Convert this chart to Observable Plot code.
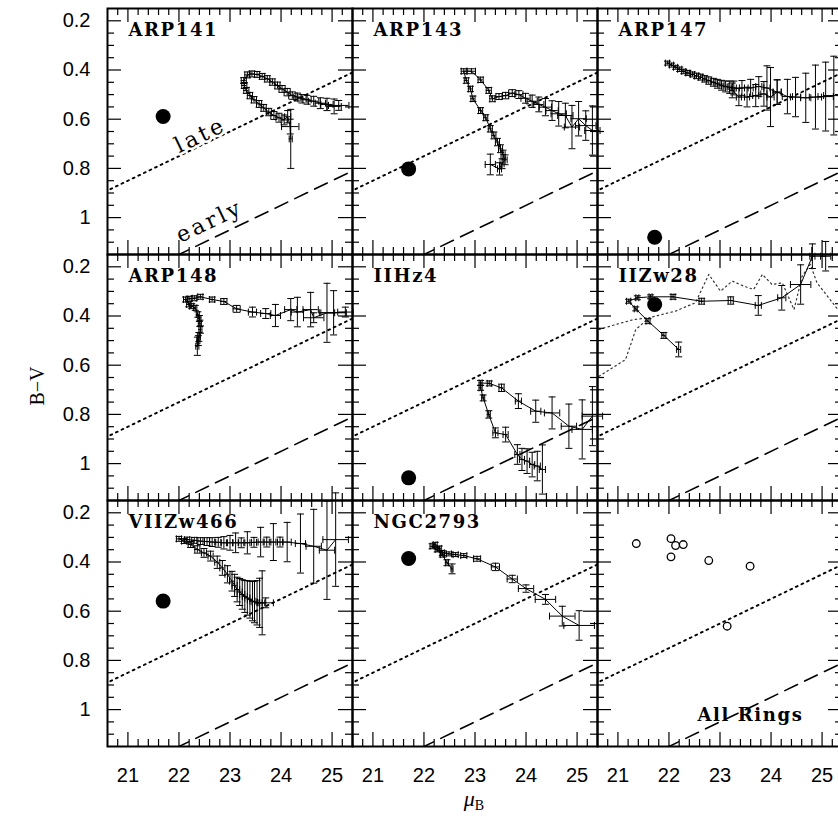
<!DOCTYPE html>
<html><head><meta charset="utf-8">
<script src="https://cdn.jsdelivr.net/npm/d3@7"></script>
<script src="https://cdn.jsdelivr.net/npm/@observablehq/plot@0.6"></script>
<style>
html,body{margin:0;padding:0;background:#fff;overflow:hidden;}
#chart{position:relative;width:844px;height:823px;}
</style></head><body><div id="chart"></div>
<script>
// ---- panels ----
const galaxies = ["ARP141","ARP143","ARP147","ARP148","IIHz4","IIZw28","VIIZw466","NGC2793"];
const panelCol = [0,1,2,0,1,2,0,1];
const panelRow = [0,0,0,1,1,1,2,2];
// integrated colours (big filled dots)
const integMu = [21.69,21.70,21.72,null,21.70,21.72,21.69,21.70];
const integBV = [0.589,0.802,1.08,null,1.058,0.353,0.559,0.386];

// ---- ring profiles: [muB, B-V, err muB, err B-V] ----
const ARP141 = [[24.19,0.68,0.03,0.12],[24.18,0.63,0.17,0.03],[24.13,0.59,0.06,0.025],[24.06,0.603,0.06,0.02],[23.96,0.594,0.06,0.018],[23.86,0.585,0.06,0.016],[23.76,0.571,0.05,0.015],[23.66,0.554,0.05,0.014],[23.57,0.538,0.05,0.014],[23.47,0.521,0.05,0.013],[23.39,0.504,0.05,0.013],[23.32,0.483,0.05,0.012],[23.28,0.463,0.05,0.012],[23.27,0.443,0.05,0.012],[23.34,0.42,0.05,0.012],[23.43,0.416,0.05,0.012],[23.53,0.418,0.05,0.012],[23.63,0.426,0.05,0.012],[23.73,0.436,0.05,0.013],[23.83,0.449,0.05,0.013],[23.93,0.463,0.05,0.014],[24.02,0.477,0.06,0.014],[24.12,0.49,0.06,0.015],[24.22,0.504,0.07,0.015],[24.32,0.51,0.07,0.016],[24.41,0.517,0.08,0.017],[24.51,0.521,0.08,0.018],[24.64,0.527,0.1,0.02],[24.77,0.535,0.1,0.022],[24.90,0.54,0.12,0.025],[25.04,0.548,0.14,0.03],[25.13,0.544,0.2,0.02]];
const ARP143 = [[23.30,0.784,0.1,0.042],[23.48,0.802,0.04,0.025],[23.53,0.781,0.04,0.02],[23.59,0.765,0.04,0.02],[23.55,0.744,0.04,0.018],[23.50,0.72,0.04,0.016],[23.44,0.693,0.04,0.015],[23.37,0.666,0.04,0.014],[23.30,0.639,0.04,0.013],[23.21,0.594,0.04,0.012],[23.11,0.565,0.04,0.012],[22.96,0.517,0.04,0.011],[22.91,0.477,0.04,0.011],[22.83,0.443,0.04,0.011],[22.78,0.405,0.05,0.01],[22.93,0.405,0.08,0.01],[23.11,0.44,0.05,0.011],[23.27,0.483,0.05,0.012],[23.34,0.517,0.05,0.012],[23.47,0.508,0.06,0.012],[23.60,0.504,0.06,0.013],[23.73,0.494,0.07,0.014],[23.86,0.50,0.08,0.016],[23.99,0.515,0.09,0.02],[24.12,0.527,0.1,0.025],[24.25,0.54,0.1,0.03],[24.38,0.551,0.12,0.035],[24.51,0.565,0.12,0.04],[24.64,0.578,0.15,0.05],[24.77,0.585,0.15,0.05],[24.90,0.632,0.15,0.088],[25.03,0.598,0.15,0.07],[25.17,0.626,0.2,0.06],[25.30,0.646,0.15,0.1]];
const ARP147a = [[21.97,0.372,0.04,0.008],[22.05,0.38,0.04,0.008],[22.13,0.389,0.04,0.008],[22.21,0.397,0.04,0.009],[22.29,0.406,0.04,0.009],[22.37,0.412,0.04,0.01],[22.46,0.418,0.04,0.01],[22.54,0.424,0.04,0.011],[22.62,0.429,0.04,0.012],[22.70,0.436,0.04,0.013],[22.78,0.443,0.05,0.015],[22.87,0.45,0.05,0.016],[22.95,0.456,0.05,0.018],[23.03,0.462,0.05,0.02],[23.11,0.467,0.05,0.022],[23.19,0.47,0.05,0.025],[23.27,0.473,0.05,0.028],[23.43,0.473,0.05,0.03],[23.60,0.473,0.05,0.035],[23.76,0.467,0.06,0.04],[23.92,0.473,0.06,0.09],[24.12,0.49,0.08,0.05],[24.32,0.508,0.1,0.07],[24.48,0.51,0.1,0.08],[24.68,0.513,0.1,0.1],[24.87,0.51,0.12,0.13],[25.07,0.508,0.15,0.14],[25.23,0.504,0.2,0.16]];
const ARP147b = [[23.24,0.483,0.05,0.03],[23.37,0.51,0.05,0.035],[23.53,0.51,0.05,0.04],[23.70,0.504,0.06,0.045],[23.86,0.497,0.06,0.05],[23.99,0.51,0.07,0.12],[24.12,0.49,0.08,0.05]];
const ARP148 = [[22.36,0.523,0.03,0.037],[22.38,0.50,0.03,0.02],[22.39,0.485,0.03,0.018],[22.42,0.455,0.03,0.015],[22.41,0.43,0.03,0.013],[22.40,0.41,0.03,0.012],[22.37,0.394,0.03,0.011],[22.32,0.367,0.03,0.01],[22.25,0.36,0.04,0.01],[22.19,0.353,0.04,0.01],[22.13,0.333,0.04,0.01],[22.20,0.33,0.04,0.01],[22.30,0.328,0.04,0.01],[22.42,0.322,0.05,0.01],[22.65,0.333,0.05,0.01],[22.88,0.341,0.06,0.012],[23.13,0.371,0.07,0.014],[23.44,0.384,0.08,0.02],[23.70,0.39,0.1,0.02],[23.89,0.398,0.1,0.045],[24.19,0.374,0.12,0.045],[24.32,0.384,0.12,0.06],[24.58,0.374,0.15,0.07],[24.64,0.407,0.2,0.02],[24.90,0.387,0.15,0.12],[25.03,0.387,0.25,0.09],[25.26,0.384,0.15,0.02]];
const IIHz4 = [[24.32,1.024,0.06,0.1],[24.22,1.01,0.06,0.06],[24.12,1.004,0.05,0.05],[24.02,0.99,0.05,0.05],[23.92,0.983,0.05,0.045],[23.83,0.963,0.05,0.04],[23.60,0.882,0.05,0.03],[23.40,0.875,0.05,0.02],[23.27,0.80,0.03,0.015],[23.16,0.733,0.03,0.012],[23.11,0.692,0.03,0.01],[23.11,0.672,0.03,0.01],[23.28,0.674,0.04,0.01],[23.52,0.692,0.05,0.015],[23.85,0.746,0.06,0.03],[24.19,0.787,0.1,0.045],[24.51,0.794,0.15,0.065],[24.84,0.848,0.15,0.09],[25.10,0.861,0.2,0.12],[25.30,0.807,0.2,0.12]];
const IIZw28 = [[22.19,0.536,0.04,0.03],[21.90,0.479,0.04,0.012],[21.59,0.421,0.04,0.01],[21.35,0.371,0.03,0.008],[21.21,0.34,0.04,0.008],[21.38,0.326,0.03,0.008],[21.64,0.322,0.03,0.008],[22.08,0.322,0.04,0.01],[22.64,0.34,0.05,0.012],[23.21,0.337,0.05,0.015],[23.75,0.357,0.06,0.04],[24.21,0.326,0.08,0.05],[24.58,0.272,0.2,0.08],[24.81,0.157,0.05,0.05],[25.07,0.157,0.1,0.06]];
const VIIZw466 = [[23.70,0.566,0.15,0.02],[23.63,0.566,0.05,0.13],[23.58,0.566,0.05,0.1],[23.53,0.566,0.05,0.09],[23.48,0.562,0.05,0.085],[23.44,0.559,0.05,0.08],[23.39,0.553,0.05,0.075],[23.34,0.546,0.05,0.07],[23.29,0.54,0.05,0.065],[23.24,0.532,0.05,0.06],[23.19,0.522,0.05,0.055],[23.14,0.512,0.05,0.05],[23.09,0.495,0.05,0.045],[23.04,0.478,0.05,0.04],[22.95,0.45,0.05,0.035],[22.85,0.424,0.05,0.03],[22.75,0.401,0.05,0.025],[22.62,0.376,0.05,0.02],[22.49,0.363,0.05,0.018],[22.36,0.349,0.05,0.015],[22.23,0.329,0.05,0.012],[22.10,0.315,0.05,0.01],[22.0,0.306,0.05,0.01],[22.16,0.309,0.05,0.01],[22.3,0.312,0.05,0.012],[22.42,0.315,0.05,0.014],[22.55,0.317,0.05,0.016],[22.65,0.319,0.05,0.018],[22.77,0.32,0.05,0.02],[22.88,0.322,0.05,0.025],[23.0,0.322,0.05,0.03],[23.11,0.322,0.05,0.04],[23.22,0.322,0.05,0.02],[23.34,0.322,0.05,0.045],[23.47,0.32,0.05,0.02],[23.60,0.319,0.05,0.06],[23.72,0.319,0.05,0.02],[23.85,0.319,0.05,0.075],[23.98,0.319,0.05,0.02],[24.12,0.319,0.08,0.08],[24.38,0.325,0.1,0.12],[24.64,0.336,0.15,0.15],[24.90,0.352,0.15,0.2],[25.07,0.309,0.25,0.19]];
const NGC2793 = [[22.55,0.428,0.02,0.02],[22.45,0.403,0.03,0.012],[22.36,0.37,0.04,0.01],[22.26,0.349,0.04,0.01],[22.16,0.336,0.04,0.01],[22.22,0.33,0.04,0.01],[22.30,0.345,0.04,0.01],[22.36,0.363,0.04,0.01],[22.49,0.367,0.05,0.008],[22.62,0.37,0.05,0.008],[22.78,0.374,0.06,0.008],[23.04,0.387,0.07,0.01],[23.40,0.42,0.08,0.015],[23.73,0.469,0.1,0.015],[24.00,0.508,0.15,0.015],[24.38,0.552,0.2,0.02],[24.71,0.62,0.25,0.04],[25.04,0.658,0.3,0.06]];
const tracks = [["ARP141",ARP141],["ARP143",ARP143],["ARP147",ARP147a],["ARP147",ARP147b],["ARP148",ARP148],["IIHz4",IIHz4],["IIZw28",IIZw28],["VIIZw466",VIIZw466],["NGC2793",NGC2793]];

// IIZw28 model curves (dotted)
const modelA_mu = [20.63,21.15,21.35,21.61,22.13,22.52,22.78,23.01,23.24,23.47,23.66,23.83,24.02,24.22,24.45,24.61,24.77,24.90,25.13,25.36];
const modelA_bv = [0.645,0.577,0.455,0.407,0.38,0.346,0.231,0.299,0.258,0.279,0.292,0.231,0.272,0.265,0.374,0.238,0.19,0.265,0.326,0.387];
const modelB_mu = [20.63,20.95,21.3,21.61];
const modelB_bv = [0.455,0.435,0.415,0.407];

// All rings (open circles)
const ringMu = [21.36,22.04,22.13,22.28,22.04,22.78,23.59,23.14];
const ringBV = [0.325,0.305,0.333,0.329,0.379,0.394,0.417,0.661];

// "late" and "early" reference sequences
const refMu = [20.0, 26.0];
const lateBV = [0.95, 0.35];
const earlyBV = [1.35, 0.75];
const noteText = ["late","early"];
const noteMu = [22.42, 22.60];
const noteBV = [0.665, 1.015];

// axes
const xLabels = [21,22,23,24,25];
const yLabels = [0.2,0.4,0.6,0.8,1];
const xMinor = d3.range(104,127).filter(i => i % 5 !== 0).map(i => i/5);
const yMinor = d3.range(4,23).filter(i => i % 4 !== 0).map(i => i/20);

// ---- layout ----
const W = 844, H = 823, ML = 107, MR = 2, MT = 8, MB = 77;
const FW = (W-ML-MR)/3, FH = (H-MT-MB)/3;

const colOf = Object.fromEntries(galaxies.map((g,i)=>[g,panelCol[i]]));
const rowOf = Object.fromEntries(galaxies.map((g,i)=>[g,panelRow[i]]));
const pts = [];
tracks.forEach(([g,arr],t) => arr.forEach(([mu,bv,emu,ebv]) => pts.push({t, g, col: colOf[g], row: rowOf[g], mu, bv, emu, ebv})));
const integ = galaxies.map((g,i)=>({g, col: panelCol[i], row: panelRow[i], mu: integMu[i], bv: integBV[i]})).filter(d=>d.mu!=null);
const titles = galaxies.map((g,i)=>({g, col: panelCol[i], row: panelRow[i]}));
const rings = ringMu.map((m,i)=>({mu:m, bv:ringBV[i], col:2, row:2}));
const models = [
  ...modelA_mu.map((m,i)=>({k:"A", mu:m, bv:modelA_bv[i], col:2, row:1})),
  ...modelB_mu.map((m,i)=>({k:"B", mu:m, bv:modelB_bv[i], col:2, row:1}))
];
const lateLine = refMu.map((m,i)=>({mu:m, bv:lateBV[i]}));
const earlyLine = refMu.map((m,i)=>({mu:m, bv:earlyBV[i]}));
const notes = noteText.map((t,i)=>({t, mu: noteMu[i], bv: noteBV[i], col:0, row:0}));

const hCap = {draw(ctx, size){ const r = Math.sqrt(size/Math.PI); ctx.moveTo(-r,0); ctx.lineTo(r,0); }};
const vCap = {draw(ctx, size){ const r = Math.sqrt(size/Math.PI); ctx.moveTo(0,-r); ctx.lineTo(0,r); }};
const F = {fx: "col", fy: "row"};
const serif = "DejaVu Serif, Liberation Serif, serif";

const plot = Plot.plot({
  width: W, height: H,
  marginLeft: ML, marginRight: MR, marginTop: MT, marginBottom: MB,
  style: {fontFamily: "Liberation Sans, Arial, sans-serif", fontSize: "20px", background: "white", color: "black", maxWidth: "none"},
  x: {domain: [20.6, 25.4]},
  y: {domain: [0.15, 1.15], reverse: true},
  fx: {domain: [0,1,2], padding: 0, axis: null},
  fy: {domain: [0,1,2], padding: 0, axis: null},
  marks: [
    // reference lines
    Plot.line(lateLine, {x: "mu", y: "bv", stroke: "black", strokeWidth: 1.9, strokeDasharray: "1.9 4.3", clip: true}),
    Plot.line(earlyLine, {x: "mu", y: "bv", stroke: "black", strokeWidth: 1.6, strokeDasharray: "14 8", clip: true}),
    // IIZw28 models
    Plot.line(models, {...F, x: "mu", y: "bv", z: "k", stroke: "#333", strokeWidth: 1.2, strokeDasharray: "1.5 3.2", clip: true}),
    // error bars
    Plot.ruleX(pts, {...F, x: "mu", y1: d=>d.bv-d.ebv, y2: d=>d.bv+d.ebv, stroke: "black", strokeWidth: 1}),
    Plot.ruleY(pts, {...F, y: "bv", x1: d=>d.mu-d.emu, x2: d=>d.mu+d.emu, stroke: "black", strokeWidth: 1}),
    Plot.dot(pts, {...F, x: "mu", y: d=>d.bv-d.ebv, symbol: hCap, r: 3.5, fill: "none", stroke: "black", strokeWidth: 1}),
    Plot.dot(pts, {...F, x: "mu", y: d=>d.bv+d.ebv, symbol: hCap, r: 3.5, fill: "none", stroke: "black", strokeWidth: 1}),
    Plot.dot(pts, {...F, x: d=>d.mu-d.emu, y: "bv", symbol: vCap, r: 3.5, fill: "none", stroke: "black", strokeWidth: 1}),
    Plot.dot(pts, {...F, x: d=>d.mu+d.emu, y: "bv", symbol: vCap, r: 3.5, fill: "none", stroke: "black", strokeWidth: 1}),
    Plot.line(pts, {...F, x: "mu", y: "bv", z: "t", stroke: "black", strokeWidth: 1}),
    // integrated
    Plot.dot(integ, {...F, x: "mu", y: "bv", r: 7.5, fill: "black", stroke: "none"}),
    // rings
    Plot.dot(rings, {...F, x: "mu", y: "bv", r: 3.8, fill: "none", stroke: "black", strokeWidth: 1.3}),
    // notes
    Plot.text(notes, {...F, x: "mu", y: "bv", text: "t", rotate: -25.7, fontFamily: serif, fontSize: 22, fill: "black", stroke: "white", strokeWidth: 5}),
    // titles
    Plot.text(titles, {...F, text: "g", frameAnchor: "top-left", dx: 21, dy: 15, textAnchor: "start", lineAnchor: "top", fontFamily: serif, fontWeight: "bold", fontSize: 18, fill: "black"}),
    Plot.text([{t: "All Rings", col: 2, row: 2}], {...F, text: "t", frameAnchor: "bottom-left", dx: 100, dy: -31, textAnchor: "start", lineAnchor: "middle", fontFamily: serif, fontWeight: "bold", fontSize: 18, fill: "black"}),
    // inward ticks on all sides
    Plot.tickX(xLabels, {x: d=>d, insetTop: FH-14, stroke: "black", strokeWidth: 1.2}),
    Plot.tickX(xLabels, {x: d=>d, insetBottom: FH-14, stroke: "black", strokeWidth: 1.2}),
    Plot.tickX(xMinor, {x: d=>d, insetTop: FH-7, stroke: "black", strokeWidth: 1.2}),
    Plot.tickX(xMinor, {x: d=>d, insetBottom: FH-7, stroke: "black", strokeWidth: 1.2}),
    Plot.tickY(yLabels, {y: d=>d, insetRight: FW-14, stroke: "black", strokeWidth: 1.2}),
    Plot.tickY(yLabels, {y: d=>d, insetLeft: FW-14, stroke: "black", strokeWidth: 1.2}),
    Plot.tickY(yMinor, {y: d=>d, insetRight: FW-7, stroke: "black", strokeWidth: 1.2}),
    Plot.tickY(yMinor, {y: d=>d, insetLeft: FW-7, stroke: "black", strokeWidth: 1.2}),
    Plot.frame({stroke: "black", strokeWidth: 2}),
    // tick labels
    Plot.axisX({ticks: xLabels, tickSize: 0, tickPadding: 21, tickFormat: d => `${d}`, label: null}),
    Plot.axisY({ticks: yLabels, tickSize: 0, tickPadding: 17, tickFormat: d => `${d}`, label: null})
  ]
});
document.getElementById("chart").appendChild(plot);
const svg = d3.select(plot);
const titleSet = new Set([...galaxies, "All Rings"]);
const noteSet = new Set(noteText);
svg.selectAll("text").filter(function(){ return titleSet.has(this.textContent); }).attr("letter-spacing", "1.6");
svg.selectAll("text").filter(function(){ return noteSet.has(this.textContent); }).attr("letter-spacing", "3");
// axis titles
svg.append("text")
  .attr("transform", `translate(44,386) rotate(-90)`)
  .attr("text-anchor", "middle")
  .attr("font-family", "Liberation Serif, Times New Roman, serif")
  .attr("font-size", 20)
  .attr("fill", "black")
  .text("B\u2212V");
const xt = svg.append("text")
  .attr("x", 474).attr("y", 806)
  .attr("text-anchor", "middle")
  .attr("font-family", "Liberation Serif, Times New Roman, serif")
  .attr("fill", "black");
xt.append("tspan").attr("font-style", "italic").attr("font-size", 22).text("\u03bc");
xt.append("tspan").attr("font-size", 14).attr("dy", 4).text("B");
</script></body></html>
